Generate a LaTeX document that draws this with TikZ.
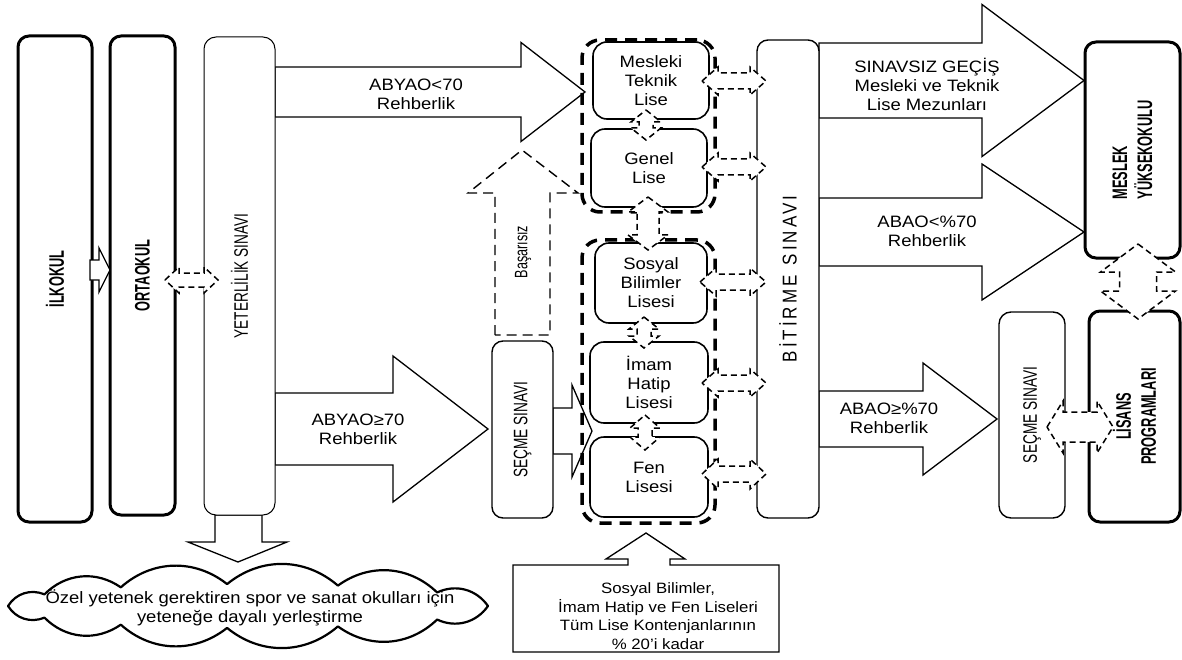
\documentclass[tikz,border=0pt]{standalone}
\usepackage{fontspec}
\setmainfont{Liberation Sans}[FakeStretch=1.12]
\newfontfamily\condf{Liberation Sans}[FakeStretch=0.7]
\newfontfamily\condbf{Liberation Sans}[FakeStretch=0.61]
\newfontfamily\bitf{Liberation Sans}[FakeStretch=0.85,LetterSpace=15]
\newcommand\lblfont{\fontsize{16.5}{19}\selectfont}
% right block arrow: style, x0, xhead, xtip, yc, shaft half, head half
\newcommand\RArr[7]{\draw[#1] (#2,{#5-#6}) -- (#3,{#5-#6}) -- (#3,{#5-#7}) -- (#4,#5) -- (#3,{#5+#7}) -- (#3,{#5+#6}) -- (#2,{#5+#6}) -- cycle;}
% horizontal double arrow: style, x0, x1, yc, shaft half, head half, head length
\newcommand\HDArr[7]{\draw[#1] (#2,#4) -- ({#2+#7},{#4-#6}) -- ({#2+#7},{#4-#5}) -- ({#3-#7},{#4-#5}) -- ({#3-#7},{#4-#6}) -- (#3,#4) -- ({#3-#7},{#4+#6}) -- ({#3-#7},{#4+#5}) -- ({#2+#7},{#4+#5}) -- ({#2+#7},{#4+#6}) -- cycle;}
% vertical double arrow: style, xc, y0, y1, shaft half, head half, head length
\newcommand\VDArr[7]{\draw[#1] (#2,#3) -- ({#2+#6},{#3+#7}) -- ({#2+#5},{#3+#7}) -- ({#2+#5},{#4-#7}) -- ({#2+#6},{#4-#7}) -- (#2,#4) -- ({#2-#6},{#4-#7}) -- ({#2-#5},{#4-#7}) -- ({#2-#5},{#3+#7}) -- ({#2-#6},{#3+#7}) -- cycle;}
\begin{document}
\begin{tikzpicture}[x=1pt,y=-1pt,
  tbox/.style={draw, line width=3pt, rounded corners=11pt, inner sep=0pt, fill=white},
  nbox/.style={draw, line width=1pt, rounded corners=11pt, inner sep=0pt, fill=white},
  mbox/.style={draw, line width=1.4pt, rounded corners=11pt, inner sep=0pt, fill=white},
  lbox/.style={draw, line width=1.6pt, rounded corners=14pt, inner sep=0pt, fill=white, align=center, font=\lblfont},
  grpbox/.style={draw, line width=3.5pt, dash pattern=on 12pt off 8pt, rounded corners=18pt},
  blk/.style={draw, line width=1.3pt, fill=white, line join=miter},
  dblk/.style={draw, line width=1.5pt, dash pattern=on 6pt off 4pt, fill=white},
  dup/.style={draw, line width=1.4pt, dash pattern=on 10pt off 6pt, fill=white},
  cloudline/.style={draw, line width=2.2pt, fill=white, line join=round},
  lbl/.style={font=\lblfont, align=center, inner sep=0pt},
  vlbl/.style={font=\condf\fontsize{19.5}{22}\selectfont},
  vlblb/.style={font=\condbf\bfseries\fontsize{21}{25}\selectfont}]
\fill[white] (0,0) rectangle (1182,660);
\useasboundingbox (0,0) rectangle (1182,660);

% solid block arrows
\RArr{blk}{275}{521}{585}{92}{25}{49.5}
\RArr{blk}{275}{393}{488}{429}{36}{73}
\RArr{blk}{553}{572}{592}{431}{23}{46}
\RArr{blk}{819}{982}{1084}{80.5}{37.5}{76}
\RArr{blk}{819}{982}{1084}{232}{34}{68}
\RArr{blk}{819}{923}{997}{419}{28}{56}
% Basarisiz dashed up arrow
\draw[dup] (495,335) -- (495,193) -- (468,193) -- (522,150) -- (578,193) -- (550,193) -- (550,335) -- cycle;
\node[rotate=90, font=\condf\fontsize{18}{20}\selectfont] (bas) at (523,252) {Başarısız};

% cloud
\coordinate (cloud) at (248,606);
\draw[cloudline] ({248+240*cos(0)},{606+22*sin(0)})
  \foreach \t in {38,68,95,122,148,180,212,238,265,292,322,360} { to[bend left=40] ({248+240*cos(\t)},{606+22*sin(\t)}) } -- cycle;
\node[lbl] (cloudtxt) at (250,608) {Özel yetenek gerektiren spor ve sanat okulları için\\yeteneğe dayalı yerleştirme};
% down arrow to cloud
\draw[blk] (215,515) -- (215,542) -- (188,542) -- (238,562) -- (287,542) -- (262,542) -- (262,515) -- cycle;

% boxes
\node[tbox, rotate=90, minimum width=486pt, minimum height=74pt, vlblb] (ilk) at (55,279) {İLKOKUL};
\node[tbox, rotate=90, minimum width=479pt, minimum height=65pt, vlblb] (orta) at (142.5,275.5) {ORTAOKUL};
\node[nbox, rotate=90, minimum width=478pt, minimum height=71pt, vlbl, rounded corners=12pt] (yet) at (239.5,276) {YETERLİLİK SINAVI};
\node[mbox, rotate=90, minimum width=177pt, minimum height=61pt, vlbl] (sec1) at (522.5,429.5) {SEÇME SINAVI};

\node[grpbox, minimum width=133pt, minimum height=172pt] (grp1) at (648.5,126) {};
\node[grpbox, minimum width=133pt, minimum height=283pt] (grp2) at (648.5,381.5) {};
\node[lbox, minimum width=116pt, minimum height=77pt] (mtl) at (651,80.5) {Mesleki\\Teknik\\Lise};
\node[lbox, minimum width=116pt, minimum height=78pt] (genel) at (649,168) {Genel\\Lise};
\node[lbox, minimum width=112pt, minimum height=80pt] (sosyal) at (651,283) {Sosyal\\Bilimler\\Lisesi};
\node[lbox, minimum width=118pt, minimum height=81pt] (imam) at (649,382.5) {İmam\\Hatip\\Lisesi};
\node[lbox, minimum width=118pt, minimum height=80pt] (fen) at (649,477) {Fen\\Lisesi};

\node[mbox, rotate=90, minimum width=478pt, minimum height=62pt, font=\bitf\fontsize{20}{24}\selectfont] (bit) at (788,279) {BİTİRME\hspace{10pt}SINAVI};
\node[tbox, rotate=90, minimum width=216pt, minimum height=95pt, vlblb, align=left] (myo) at (1132.5,150) {MESLEK\\YÜKSEKOKULU};
\node[mbox, rotate=90, minimum width=206pt, minimum height=66pt, vlbl, rounded corners=12pt] (sec2) at (1032,415) {SEÇME SINAVI};
\node[tbox, rotate=90, minimum width=211pt, minimum height=91pt, vlblb, align=center] (lis) at (1134.5,416.5) {LİSANS\\PROGRAMLARI};

% small solid arrow ilkokul -> ortaokul
\RArr{blk}{90}{99}{110}{270}{10}{22}
% dashed double arrows
\HDArr{dblk}{165}{218}{280}{7}{13}{14}
\HDArr{dblk}{702}{766}{81}{8}{14}{16}
\HDArr{dblk}{702}{766}{167}{8}{14}{16}
\HDArr{dblk}{700}{766}{282}{8}{14}{16}
\HDArr{dblk}{702}{766}{383}{8}{14}{16}
\HDArr{dblk}{702}{766}{474}{8}{15}{16}
\VDArr{dblk}{646}{110}{140}{7}{15}{12}
\VDArr{dblk}{648}{197}{250}{11}{20}{15}
\VDArr{dblk}{644}{317}{348}{7}{15}{12}
\VDArr{dblk}{645}{415}{450}{7}{15}{13}
\HDArr{dblk}{1047}{1113}{427}{15}{26}{16}
\VDArr{dblk}{1138}{244}{319}{18.5}{37.5}{28}

% arrow labels
\node[lbl] (l1) at (416,94) {ABYAO<70\\Rehberlik};
\node[lbl] (l2) at (358,429) {ABYAO≥70\\Rehberlik};
\node[lbl] (l3) at (927,84) {SINAVSIZ GEÇİŞ\\Mesleki ve Teknik\\Lise Mezunları};
\node[lbl] (l4) at (927,231) {ABAO<\%70\\Rehberlik};
\node[lbl] (l5) at (889,418) {ABAO≥\%70\\Rehberlik};

% callout
\draw[blk] (513,565) -- (628,565) -- (628,559) -- (606,559) -- (646,533) -- (685,559) -- (670,559) -- (670,565) -- (779,565) -- (779,652) -- (513,652) -- cycle;
\node[lbl, font=\fontsize{15}{18.5}\selectfont] (calltxt) at (658,616) {Sosyal Bilimler,\\İmam Hatip ve Fen Liseleri\\Tüm Lise Kontenjanlarının\\\% 20’i kadar};
\end{tikzpicture}
\end{document}
